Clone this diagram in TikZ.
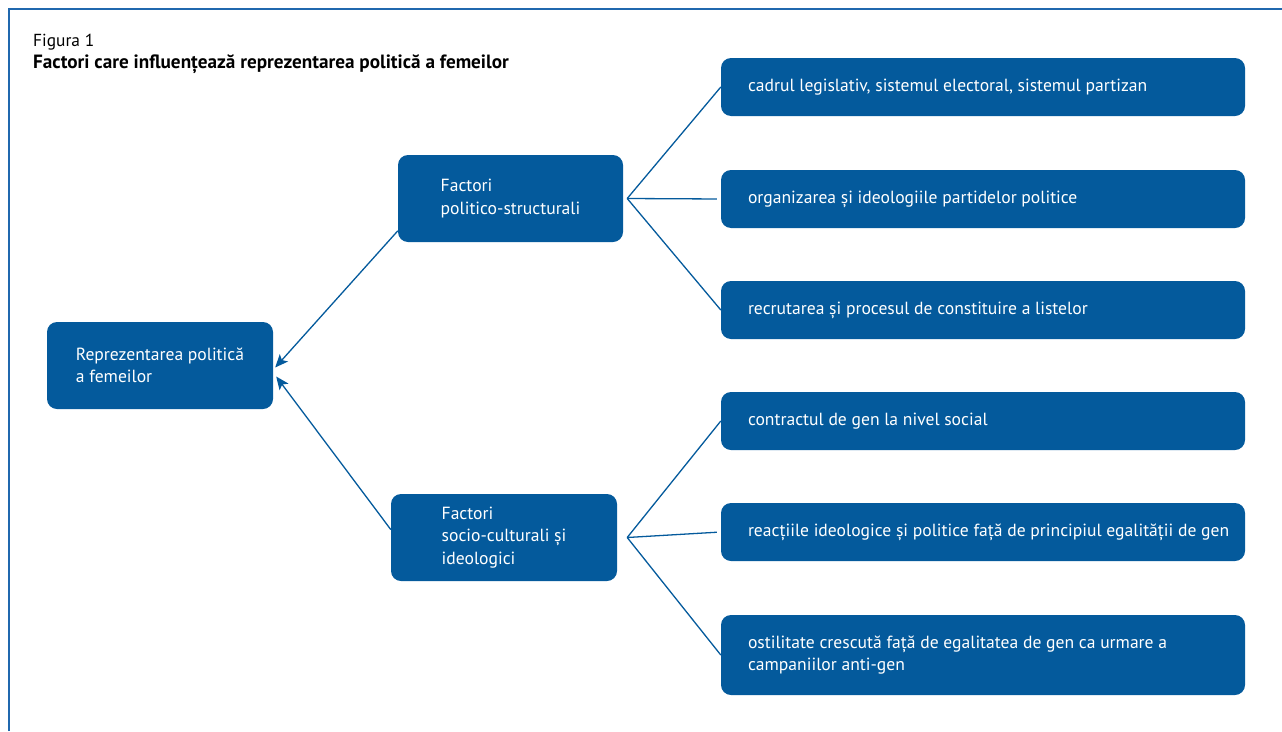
\documentclass[tikz,border=0pt]{standalone}
\usepackage{fontspec}
\setmainfont{PT Sans}
\usepackage{tikz}
\usetikzlibrary{arrows.meta}
\definecolor{fgblue}{HTML}{045A9C}
\definecolor{fgframe}{HTML}{2068AE}
\newcommand{\rowtxt}[1]{\makebox[470pt][l]{#1}}

\begin{document}
\begin{tikzpicture}[x=1pt,y=-1pt,font=\fontsize{17.6}{22.5}\selectfont,
  bx/.style={rectangle,rounded corners=10pt,fill=fgblue,text=white,align=left,inner sep=0pt,minimum height=87pt},
  sub/.style={bx,inner xsep=27pt,minimum width=524pt,minimum height=58pt},
  ln/.style={fgblue,line width=1.3pt},
  arr/.style={ln,-{Stealth[length=13pt,width=11pt,inset=3pt]}}]
  \useasboundingbox (0,0) rectangle (1282,731);
  \draw[fgframe,line width=2pt] (9,731) -- (9,9) -- (1282,9);
  \node[anchor=base west,inner sep=0pt,font=\fontsize{17.4}{22}\selectfont] (fignum) at (33,46) {Figura 1};
  \node[anchor=base west,inner sep=0pt,font=\fontsize{19.2}{22}\selectfont\bfseries] (figtitle) at (33,68) {Factori care influențează reprezentarea politică a femeilor};

  \node[bx,minimum width=226pt] (rep) at (160,365.5) {Reprezentarea politică\\a femeilor};
  \node[bx,minimum width=225pt] (pol) at (510.5,198.5) {Factori\\politico-structurali};
  \node[bx,minimum width=226pt] (soc) at (504,537.5) {Factori\\socio-culturali și\\ideologici};

  \node[sub] (s1) at (983,87) {\rowtxt{cadrul legislativ, sistemul electoral, sistemul partizan}};
  \node[sub] (s2) at (983,199) {\rowtxt{organizarea și ideologiile partidelor politice}};
  \node[sub] (s3) at (983,310) {\rowtxt{recrutarea și procesul de constituire a listelor}};
  \node[sub] (s4) at (983,421) {\rowtxt{contractul de gen la nivel social}};
  \node[sub] (s5) at (983,532) {\rowtxt{reacțiile ideologice și politice față de principiul egalității de gen}};
  \node[sub,minimum height=80pt] (s6) at (983,655) {\rowtxt{ostilitate crescută față de egalitatea de gen ca urmare a}\\\rowtxt{campaniilor anti-gen}};

  \coordinate (pfan) at ([xshift=4pt]pol.east);
  \coordinate (sfan) at ([xshift=10pt]soc.east);
  \draw[ln] (pfan) -- (s1.west);
  \draw[ln,shorten >=4pt] (pfan) -- (s2.west);
  \draw[ln] (pfan) -- (s3.west);
  \draw[ln] (sfan) -- (s4.west);
  \draw[ln,shorten >=4pt] (sfan) -- (s5.west);
  \draw[ln] (sfan) -- (s6.west);

  \draw[arr] (pol.196) -- ([xshift=2pt,yshift=-2pt]rep.east);
  \draw[arr] (soc.176) -- ([xshift=3pt,yshift=-11pt]rep.east);
\end{tikzpicture}
\end{document}
